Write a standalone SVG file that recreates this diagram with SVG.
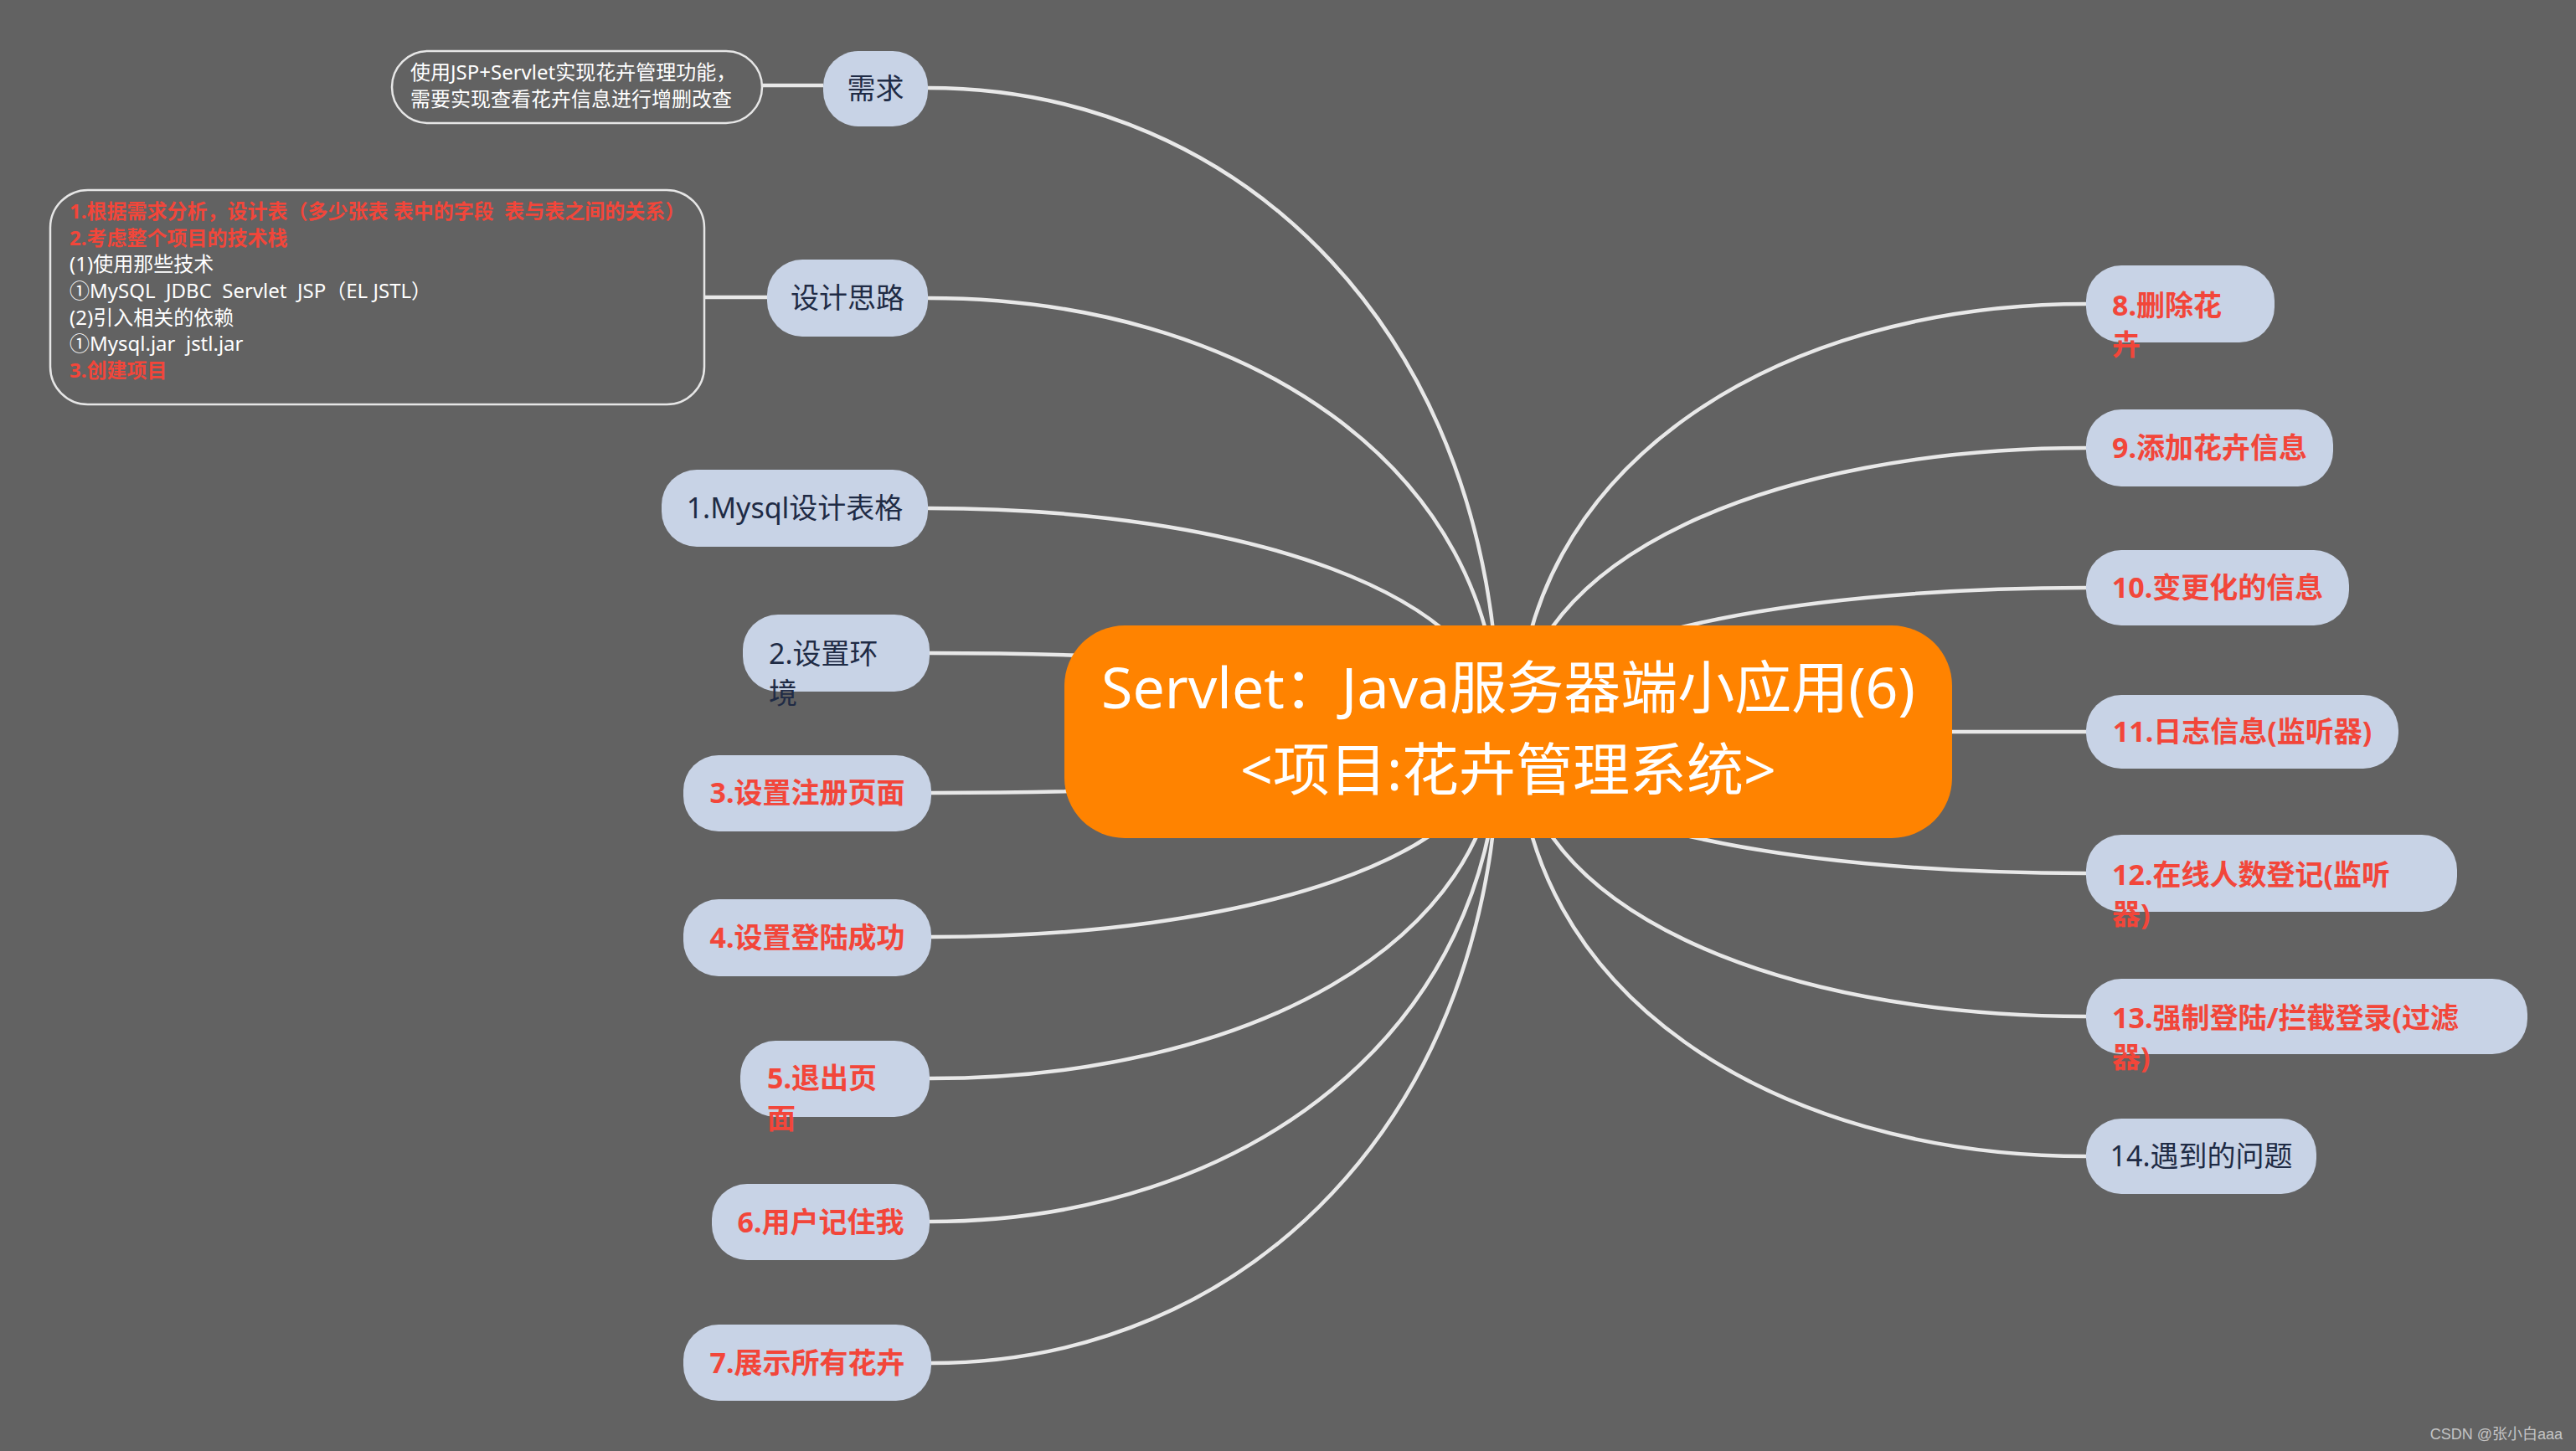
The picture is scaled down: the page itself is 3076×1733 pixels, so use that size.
<svg xmlns="http://www.w3.org/2000/svg" width="3076" height="1733" viewBox="0 0 3076 1733">
<style>
text{font-family:"Noto Sans","Noto Sans CJK SC",sans-serif;white-space:pre}
.node rect{fill:#c8d3e6}
.dk{fill:#1f2b45;font-size:34px}
.rd{fill:#f2463a;font-size:34px;font-weight:bold}
.c{text-anchor:middle}
.ln{fill:none;stroke:#e8e8e8;stroke-width:4.5}
.note rect{fill:none;stroke:#e6e6e6;stroke-width:2.5}
.nw{fill:#ffffff;font-size:24px}
.nr{fill:#f2463a;font-size:24px;font-weight:bold}
</style>
<rect width="3076" height="1733" fill="#626262"/>
<g id="connectors" class="ln">
<path d="M910,102 H983"/>
<path d="M841,355 H916"/>
<path d="M1108,105 C1483,105 1790,401 1790,874"/>
<path d="M1108,356 C1483,356 1790,555 1790,874"/>
<path d="M1108,607 C1483,607 1790,710 1790,874"/>
<path d="M1110,780 C1484,780 1790,816 1790,874"/>
<path d="M1112,947 C1485,947 1790,919 1790,874"/>
<path d="M1112,1119 C1485,1119 1790,1025 1790,874"/>
<path d="M1110,1288 C1484,1288 1790,1129 1790,874"/>
<path d="M1110,1459 C1484,1459 1790,1234 1790,874"/>
<path d="M1112,1628 C1485,1628 1790,1338 1790,874"/>
<path d="M2491,363 C2118,363 1812,560 1812,874"/>
<path d="M2491,535 C2118,535 1812,666 1812,874"/>
<path d="M2491,702 C2118,702 1812,768 1812,874"/>
<path d="M2491,874 H1812"/>
<path d="M2491,1043 C2118,1043 1812,978 1812,874"/>
<path d="M2491,1214 C2118,1214 1812,1083 1812,874"/>
<path d="M2491,1381 C2118,1381 1812,1186 1812,874"/>
</g>
<g id="central">
<rect x="1271" y="747" width="1060" height="254" rx="72" fill="#ff8300"/>
<text x="1801" y="846" class="c" fill="#ffffff" font-size="68">Servlet：Java服务器端小应用(6)</text>
<text x="1801" y="944" class="c" fill="#ffffff" font-size="68">&lt;项目:花卉管理系统&gt;</text>
</g>
<g id="note1" class="note">
<rect x="468" y="61" width="442" height="86" rx="43"/>
<text x="490" y="95" class="nw">使用JSP+Servlet实现花卉管理功能，</text>
<text x="490" y="127" class="nw">需要实现查看花卉信息进行增删改查</text>
</g>
<g id="note2" class="note">
<rect x="60" y="227" width="781" height="256" rx="45"/>
<text x="83" y="261" class="nr">1.根据需求分析，设计表（多少张表 表中的字段  表与表之间的关系）</text>
<text x="83" y="293" class="nr">2.考虑整个项目的技术栈</text>
<text x="83" y="324" class="nw">(1)使用那些技术</text>
<text x="83" y="356" class="nw">①MySQL  JDBC  Servlet  JSP（EL JSTL）</text>
<text x="83" y="388" class="nw">(2)引入相关的依赖</text>
<text x="83" y="419" class="nw">①Mysql.jar  jstl.jar</text>
<text x="83" y="451" class="nr">3.创建项目</text>
</g>
<g id="n-xuqiu" class="node"><rect x="983" y="61" width="125" height="90" rx="42"/><text x="1045.5" y="118" class="dk c">需求</text></g>
<g id="n-sheji" class="node"><rect x="916" y="310" width="192" height="92" rx="42"/><text x="1012" y="368" class="dk c">设计思路</text></g>
<g id="n-1" class="node"><rect x="790" y="561" width="318" height="92" rx="42"/><text x="949" y="619" class="dk c">1.Mysql设计表格</text></g>
<g id="n-2" class="node"><rect x="887" y="734" width="223" height="92" rx="42"/><text x="918" y="793" class="dk">2.设置环</text><text x="918" y="840" class="dk">境</text></g>
<g id="n-3" class="node"><rect x="816" y="902" width="296" height="91" rx="42"/><text x="964" y="959" class="rd c">3.设置注册页面</text></g>
<g id="n-4" class="node"><rect x="816" y="1074" width="296" height="92" rx="42"/><text x="964" y="1132" class="rd c">4.设置登陆成功</text></g>
<g id="n-5" class="node"><rect x="884" y="1243" width="226" height="91" rx="42"/><text x="916" y="1300" class="rd">5.退出页</text><text x="916" y="1348" class="rd">面</text></g>
<g id="n-6" class="node"><rect x="850" y="1414" width="260" height="91" rx="42"/><text x="980" y="1472" class="rd c">6.用户记住我</text></g>
<g id="n-7" class="node"><rect x="816" y="1582" width="296" height="91" rx="42"/><text x="964" y="1640" class="rd c">7.展示所有花卉</text></g>
<g id="n-8" class="node"><rect x="2491" y="317" width="225" height="92" rx="42"/><text x="2522" y="377" class="rd">8.删除花</text><text x="2522" y="424" class="rd">卉</text></g>
<g id="n-9" class="node"><rect x="2491" y="489" width="295" height="92" rx="42"/><text x="2638.5" y="547" class="rd c">9.添加花卉信息</text></g>
<g id="n-10" class="node"><rect x="2491" y="657" width="314" height="90" rx="42"/><text x="2648" y="714" class="rd c">10.变更化的信息</text></g>
<g id="n-11" class="node"><rect x="2491" y="830" width="373" height="88" rx="42"/><text x="2677.5" y="886" class="rd c">11.日志信息(监听器)</text></g>
<g id="n-12" class="node"><rect x="2491" y="997" width="443" height="92" rx="42"/><text x="2522" y="1057" class="rd">12.在线人数登记(监听</text><text x="2522" y="1104" class="rd">器)</text></g>
<g id="n-13" class="node"><rect x="2491" y="1169" width="527" height="90" rx="42"/><text x="2522" y="1228" class="rd">13.强制登陆/拦截登录(过滤</text><text x="2522" y="1275" class="rd">器)</text></g>
<g id="n-14" class="node"><rect x="2491" y="1336" width="275" height="90" rx="42"/><text x="2628.5" y="1393" class="dk c">14.遇到的问题</text></g>
<text x="3060" y="1719" text-anchor="end" fill="#c4c4c4" font-size="18" style="font-family:'Liberation Sans','Noto Sans CJK SC',sans-serif">CSDN @张小白aaa</text>
</svg>
